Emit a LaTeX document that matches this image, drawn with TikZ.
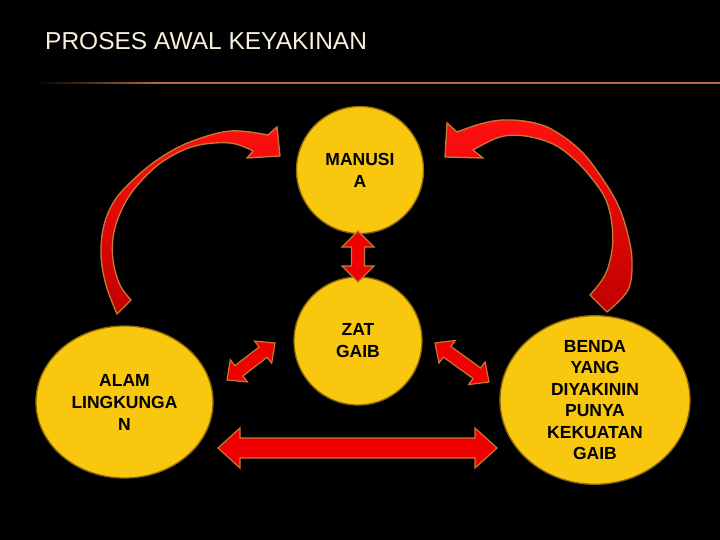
\documentclass[tikz,border=0pt]{standalone}
\usepackage{fontspec}
\setmainfont{Liberation Sans}
\usetikzlibrary{calc,shapes.geometric}
\definecolor{gold}{HTML}{F9C80E}
\definecolor{goldedge}{HTML}{8C6A05}
\definecolor{arrred}{HTML}{F00000}
\definecolor{arrbright}{HTML}{FF1010}
\definecolor{arrdark}{HTML}{C00000}
\definecolor{arredge}{HTML}{C47A35}
\definecolor{titlecol}{HTML}{F7F1DC}
\definecolor{rulecol}{HTML}{B8692F}
\newcommand\fatarrow[5]{%
 \filldraw[fatarr] (#1)
 -- ($(#1)!#5!(#2)!#4!90:(#2)$)
 -- ($(#1)!#5!(#2)!#3!90:(#2)$)
 -- ($(#2)!#5!(#1)!#3!-90:(#1)$)
 -- ($(#2)!#5!(#1)!#4!-90:(#1)$)
 -- (#2)
 -- ($(#2)!#5!(#1)!#4!90:(#1)$)
 -- ($(#2)!#5!(#1)!#3!90:(#1)$)
 -- ($(#1)!#5!(#2)!#3!-90:(#2)$)
 -- ($(#1)!#5!(#2)!#4!-90:(#2)$)
 -- cycle;}
\begin{document}
\begin{tikzpicture}[x=1pt,y=-1pt,
  blob/.style={fill=gold, draw=goldedge, line width=1.3pt, inner sep=0pt, align=center,
    font=\bfseries\fontsize{17.5}{22}\selectfont},
  circ/.style={blob, circle},
  ell/.style={blob, ellipse},
  fatarr/.style={fill=arrred, draw=arredge, line width=1.2pt, line join=miter},
  curvearr/.style={top color=arrbright, bottom color=arrdark, draw=arredge, line width=1.3pt, line join=miter}]
\useasboundingbox (0,0) rectangle (720,540);
\fill[black] (0,0) rectangle (720,540);
% title
\node[anchor=base west, text=titlecol, font=\fontsize{24.5}{28}\selectfont, inner sep=0pt] (title) at (45,50) {PROSES AWAL KEYAKINAN};
\foreach \i in {0,...,19}{
  \pgfmathsetmacro\pct{\i*5}
  \fill[rulecol!\pct!black] ({33+\i*6},82) rectangle ({33+(\i+1)*6+0.5},84.2);
}
\fill[rulecol] (153,82) rectangle (720,84.2);
% nodes
\node[circ, minimum size=127pt] (manusia) at (360,170) {MANUSI\\A};
\node[circ, minimum size=128pt] (zat) at (358,341) {ZAT\\GAIB};
\node[ell, minimum width=177pt, minimum height=152pt] (alam) at (124.5,402) {ALAM\\LINGKUNGA\\N};
\node[ell, minimum width=190pt, minimum height=156pt, font=\bfseries\fontsize{17.5}{21.4}\selectfont] (benda) at (595,400) {BENDA\\YANG\\DIYAKININ\\PUNYA\\KEKUATAN\\GAIB};
% straight double arrows
\coordinate (v1) at (358,231); \coordinate (v2) at (358,282);
\coordinate (l1) at (227,380); \coordinate (l2) at (275,343);
\coordinate (r1) at (435,343); \coordinate (r2) at (489,382);
\coordinate (h1) at (218,448); \coordinate (h2) at (497,448);
\fatarrow{v1}{v2}{6.5pt}{16pt}{16pt}
\fatarrow{l1}{l2}{6.5pt}{14pt}{15pt}
\fatarrow{r1}{r2}{6.5pt}{14pt}{15pt}
\fatarrow{h1}{h2}{10pt}{20pt}{22pt}
% curved arrows
\shadedraw[curvearr] (117,314) -- plot[smooth, tension=0.6] coordinates {(117,314) (106,285) (101,255) (104,225) (115,200) (135,178) (160,158) (190,142) (230,131) (268,135)}
  -- (277,127) -- (280,156) -- (247,158) -- (253,151)
  -- plot[smooth, tension=0.6] coordinates {(253,151) (230,143) (195,146) (165,160) (142,180) (125,203) (114,232) (113,260) (120,285) (131,300)} -- cycle;
\shadedraw[curvearr] (447,123) -- (457,132)
  -- plot[smooth, tension=0.6] coordinates {(457,132) (480,124) (503,120) (530,122) (553,130) (580,150) (600,175) (618,205) (628,235) (632,262) (628,290) (607,312)}
  -- (590,295)
  -- plot[smooth, tension=0.6] coordinates {(590,295) (605,275) (612,250) (612,225) (606,200) (593,180) (575,160) (553,144) (525,136) (500,137) (473,150)}
  -- (483,158) -- (445,157) -- cycle;
\end{tikzpicture}
\end{document}
